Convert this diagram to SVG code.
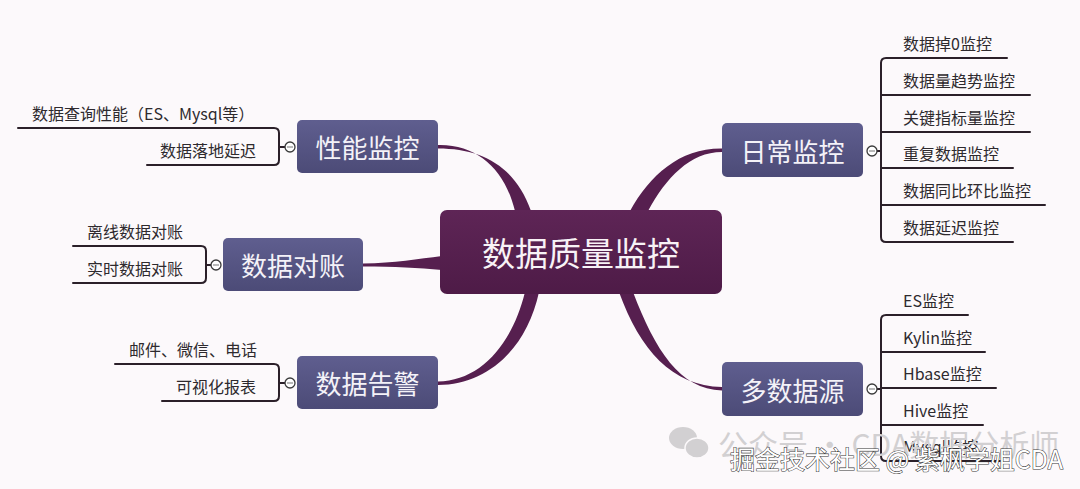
<svg xmlns="http://www.w3.org/2000/svg" width="1080" height="489" viewBox="0 0 1080 489">
<defs>
<linearGradient id="gBranch" x1="0" y1="0" x2="0" y2="1">
<stop offset="0" stop-color="#5f5e8f"/>
<stop offset="1" stop-color="#4c4b77"/>
</linearGradient>
<linearGradient id="gCenter" x1="0" y1="0" x2="0" y2="1">
<stop offset="0" stop-color="#5e2556"/>
<stop offset="1" stop-color="#4e1b47"/>
</linearGradient>
<style>
.branch{fill:url(#gBranch);}
.center{fill:url(#gCenter);}
.btxt{font-family:"Noto Sans CJK SC","Noto Sans",sans-serif;font-size:26px;fill:#f4f2f8;text-anchor:middle;dominant-baseline:central;}
.ctxt{font-family:"Noto Sans CJK SC","Noto Sans",sans-serif;font-size:33px;fill:#f8f2f6;text-anchor:middle;dominant-baseline:central;}
.stxt{font-family:"Noto Sans CJK SC","Noto Sans",sans-serif;font-size:16px;fill:#2e2a2e;dominant-baseline:central;}
.line{fill:none;stroke:#2b2029;stroke-width:2;stroke-linecap:round;}
.knob{fill:#ffffff;stroke:#3a3a3a;stroke-width:1.3;}
.minus{stroke:#8a8a8a;stroke-width:1.2;}
.conn{fill:#561f4f;}
.wm1{font-family:"Noto Sans CJK SC","Noto Sans",sans-serif;font-size:30px;fill:#d2d0d2;dominant-baseline:central;}
.wm2{font-family:"Noto Sans CJK SC","Noto Sans",sans-serif;font-size:25px;fill:#ffffff;stroke:#3a3a3a;stroke-width:1.1;paint-order:stroke;dominant-baseline:central;}
</style>
</defs>
<rect x="0" y="0" width="1080" height="489" fill="#fcf9fb"/>

<g id="connectors">
<path class="conn" d="M 438 145 C 478 144 505 170 515 211 L 531 211 C 515 166 482 148.5 438 148.5 Z"/>
<path class="conn" d="M 722 148.5 C 680 148 650 175 630 211 L 648 211 C 666 178 690 152 722 152 Z"/>
<path class="conn" d="M 363 263.5 C 395 263 418 259 442 256 L 442 270 C 418 268 395 266.5 363 266.5 Z"/>
<path class="conn" d="M 438 381.5 C 480 381 512 345 525 292 L 539 292 C 527 348 488 385 438 385 Z"/>
<path class="conn" d="M 722 387 C 672 386 640 350 619 292 L 633 292 C 655 350 680 389.5 722 390.5 Z"/>

<path class="line" d="M 18 128 H 274 Q 279 128 279 133 V 160 Q 279 165 274 165 H 147 M 279 147 H 285"/>
<path class="line" d="M 73 246 H 201 Q 206 246 206 251 V 278 Q 206 283 201 283 H 73 M 206 265 H 211"/>
<path class="line" d="M 115 364 H 274 Q 279 364 279 369 V 396 Q 279 401 274 401 H 162 M 279 383 H 285"/>
<path class="line" d="M 1007 58 H 886 Q 881 58 881 63 V 237 Q 881 242 886 242 H 1013 M 881 95 H 1030 M 881 132 H 1030 M 881 168 H 1013 M 881 205 H 1045 M 877 151 H 881"/>
<path class="line" d="M 968 315 H 886 Q 881 315 881 320 V 456 Q 881 461 886 461 H 1000 M 881 352 H 985 M 881 388 H 996 M 881 425 H 983 M 877 389 H 881"/>
</g>

<g id="n-center">
<rect class="center" x="440" y="210" width="282" height="84" rx="7"/>
<text class="ctxt" x="581" y="252">数据质量监控</text>
</g>

<g id="n-perf">
<rect class="branch" x="297" y="120" width="141" height="53" rx="5"/>
<text class="btxt" x="367.5" y="146.5">性能监控</text>
<circle class="knob" cx="290" cy="147" r="5"/><line class="minus" x1="287" y1="147" x2="293" y2="147"/>
<text class="stxt" x="32" y="113">数据查询性能（ES、Mysql等）</text>
<text class="stxt" x="160" y="150">数据落地延迟</text>
</g>

<g id="n-recon">
<rect class="branch" x="223" y="238" width="140" height="53" rx="5"/>
<text class="btxt" x="293" y="264.5">数据对账</text>
<circle class="knob" cx="216" cy="265" r="5"/><line class="minus" x1="213" y1="265" x2="219" y2="265"/>
<text class="stxt" x="87" y="231">离线数据对账</text>
<text class="stxt" x="87" y="268">实时数据对账</text>
</g>

<g id="n-alert">
<rect class="branch" x="297" y="356" width="141" height="53" rx="5"/>
<text class="btxt" x="367.5" y="382.5">数据告警</text>
<circle class="knob" cx="290" cy="383" r="5"/><line class="minus" x1="287" y1="383" x2="293" y2="383"/>
<text class="stxt" x="129" y="349">邮件、微信、电话</text>
<text class="stxt" x="176" y="386">可视化报表</text>
</g>

<g id="n-daily">
<rect class="branch" x="722" y="123" width="141" height="54" rx="5"/>
<text class="btxt" x="792.5" y="150">日常监控</text>
<circle class="knob" cx="872" cy="151" r="5"/><line class="minus" x1="869" y1="151" x2="875" y2="151"/>
<text class="stxt" x="903" y="43">数据掉0监控</text>
<text class="stxt" x="903" y="80">数据量趋势监控</text>
<text class="stxt" x="903" y="117">关键指标量监控</text>
<text class="stxt" x="903" y="153">重复数据监控</text>
<text class="stxt" x="903" y="190">数据同比环比监控</text>
<text class="stxt" x="903" y="227">数据延迟监控</text>
</g>

<g id="n-multi">
<rect class="branch" x="722" y="362" width="141" height="54" rx="5"/>
<text class="btxt" x="792.5" y="389">多数据源</text>
<circle class="knob" cx="872" cy="389" r="5"/><line class="minus" x1="869" y1="389" x2="875" y2="389"/>
<text class="stxt" x="903" y="300">ES监控</text>
<text class="stxt" x="903" y="337">Kylin监控</text>
<text class="stxt" x="903" y="373">Hbase监控</text>
<text class="stxt" x="903" y="410">Hive监控</text>
<text class="stxt" x="903" y="446">Mysql监控</text>
</g>

<g id="watermark">
<ellipse cx="683" cy="438" rx="14" ry="11" fill="#d2d0d2"/>
<ellipse cx="697" cy="448" rx="12" ry="10" fill="#d2d0d2" stroke="#fcf9fb" stroke-width="1.5"/>
<text class="wm1" x="718" y="443">公众号 · CDA数据分析师</text>
<text class="wm2" x="730" y="458">掘金技术社区 @ 紫枫学姐CDA</text>
</g>
</svg>
